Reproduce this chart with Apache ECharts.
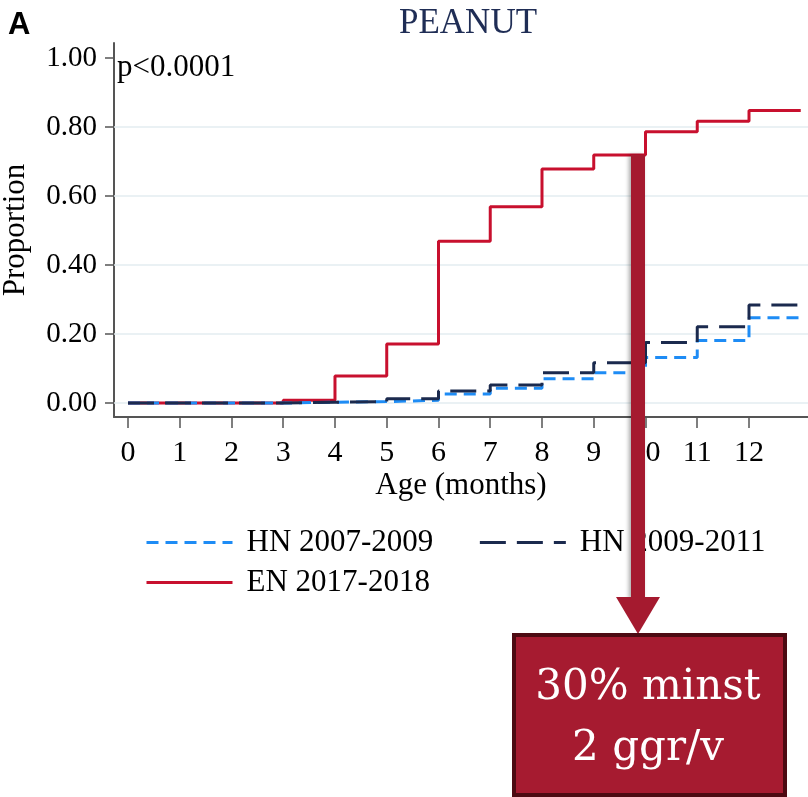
<!DOCTYPE html>
<html>
<head>
<meta charset="utf-8">
<script src="https://cdn.jsdelivr.net/npm/echarts@6/dist/echarts.min.js"></script>
<style>
html,body{margin:0;padding:0;background:#fff;}
#c{width:808px;height:797px;}
</style>
</head>
<body>
<div id="c"></div>
<script>
// ---- data ----
const months = [0,1,2,3,4,5,6,7,8,9,10,11,12,13];
const xTicks = [0,1,2,3,4,5,6,7,8,9,10,11,12];
const yTicks = [0,0.2,0.4,0.6,0.8,1.0];
const gridLevels = [0,0.2,0.4,0.6,0.8];
const seriesNames = ['HN 2007-2009','HN 2009-2011','EN 2017-2018'];
const hn0709 = [0,0,0,0.002,0.004,0.008,0.026,0.043,0.070,0.088,0.132,0.181,0.247,0.247];
const hn0911 = [0,0,0,0.002,0.004,0.012,0.035,0.052,0.088,0.117,0.175,0.221,0.284,0.284];
const en1718 = [0,0,0,0.008,0.078,0.171,0.469,0.569,0.678,0.719,0.786,0.817,0.848,0.848];
const titleText = 'PEANUT';
const pText = 'p<0.0001';
const calloutLines = ['30% minst','2 ggr/v'];

const serif = 'Liberation Serif, Times New Roman, serif';
const cRed = '#c8102e', cBlue = '#1e8cf5', cNavy = '#1b2a4e';

const toPts = arr => months.map((m,i)=>[m, arr[i]]);

const chart = echarts.init(document.getElementById('c'), null, {renderer:'canvas'});
chart.setOption({
  animation:false,
  backgroundColor:'#fff',
  title:{text:titleText, left:394, top:1, textStyle:{fontFamily:serif, fontWeight:'normal', fontSize:35, color:'#1f2d55'}},
  grid:{left:114, right:0, top:43, bottom:380, containLabel:false, outerBoundsMode:'none'},
  xAxis:{
    type:'value', min:-0.27, max:13.14,
    name:'Age (months)', nameLocation:'middle', nameGap:53,
    nameTextStyle:{fontFamily:serif, fontSize:31, color:'#000'},
    axisLine:{show:true, onZero:false, lineStyle:{color:'#555', width:2}},
    axisTick:{show:true, length:11, customValues:xTicks, lineStyle:{color:'#555', width:1.5}},
    axisLabel:{customValues:xTicks, margin:21, fontFamily:serif, fontSize:30, color:'#000', formatter:v=>String(v)},
    splitLine:{show:false}
  },
  yAxis:{
    type:'value', min:-0.0406, max:1.0435,
    name:'Proportion', nameLocation:'middle', nameGap:83,
    nameTextStyle:{fontFamily:serif, fontSize:31, color:'#000'},
    axisLine:{show:true, onZero:false, lineStyle:{color:'#555', width:2}},
    axisTick:{show:true, length:9, customValues:yTicks, lineStyle:{color:'#555', width:1.5}},
    axisLabel:{customValues:yTicks, margin:17, fontFamily:serif, fontSize:29, color:'#000', formatter:v=>v.toFixed(2)},
    splitLine:{show:false}
  },
  legend:[
    {data:[seriesNames[0], seriesNames[1]], left:140, top:522, orient:'horizontal', itemWidth:86, itemHeight:14, itemGap:45,
     itemStyle:{opacity:0}, lineStyle:{width:3},
     textStyle:{fontFamily:serif, fontSize:31, color:'#000', padding:[0,0,0,9]}},
    {data:[seriesNames[2]], left:140, top:562, itemWidth:86, itemHeight:14,
     itemStyle:{opacity:0}, lineStyle:{width:3},
     textStyle:{fontFamily:serif, fontSize:31, color:'#000', padding:[0,0,0,9]}}
  ],
  series:[
    {name:seriesNames[2], type:'line', step:'end', data:toPts(en1718), symbol:'none', color:cRed,
     lineStyle:{color:cRed, width:3, type:'solid'},
     markLine:{silent:true, symbol:'none', label:{show:false}, z:1,
       lineStyle:{color:'#e3edf1', width:1.5, type:'solid'},
       data:gridLevels.map(v=>({yAxis:v}))}},
    {name:seriesNames[0], type:'line', step:'end', data:toPts(hn0709), symbol:'none', color:cBlue,
     lineStyle:{color:cBlue, width:3, type:[12,7]}},
    {name:seriesNames[1], type:'line', step:'end', data:toPts(hn0911), symbol:'none', color:cNavy,
     lineStyle:{color:cNavy, width:3, type:[26,11]}}
  ],
  graphic:[
    {type:'text', left:8, top:10, style:{text:'A', font:'bold 31px Liberation Sans, Arial, sans-serif', fill:'#000'}},
    {type:'text', x:117, y:52, style:{text:pText, font:'31px '+serif, fill:'#000'}},
    {type:'rect', z:100, shape:{x:631, y:155, width:14, height:444},
     style:{fill:'#a51a2f', shadowBlur:4, shadowColor:'rgba(0,0,0,0.35)', shadowOffsetX:-2}},
    {type:'polygon', z:100, shape:{points:[[616,597],[660,597],[638,634]]}, style:{fill:'#a51a2f'}},
    {type:'rect', z:101, shape:{x:514, y:635, width:271, height:160},
     style:{fill:'#a61b30', stroke:'#4d0a12', lineWidth:4}},
    {type:'text', z:102, x:648, y:688, style:{text:calloutLines[0], font:'42px DejaVu Serif, serif', fill:'#fff', align:'center', verticalAlign:'middle'}},
    {type:'text', z:102, x:648, y:749, style:{text:calloutLines[1], font:'42px DejaVu Serif, serif', fill:'#fff', align:'center', verticalAlign:'middle'}}
  ]
});
</script>
</body>
</html>
